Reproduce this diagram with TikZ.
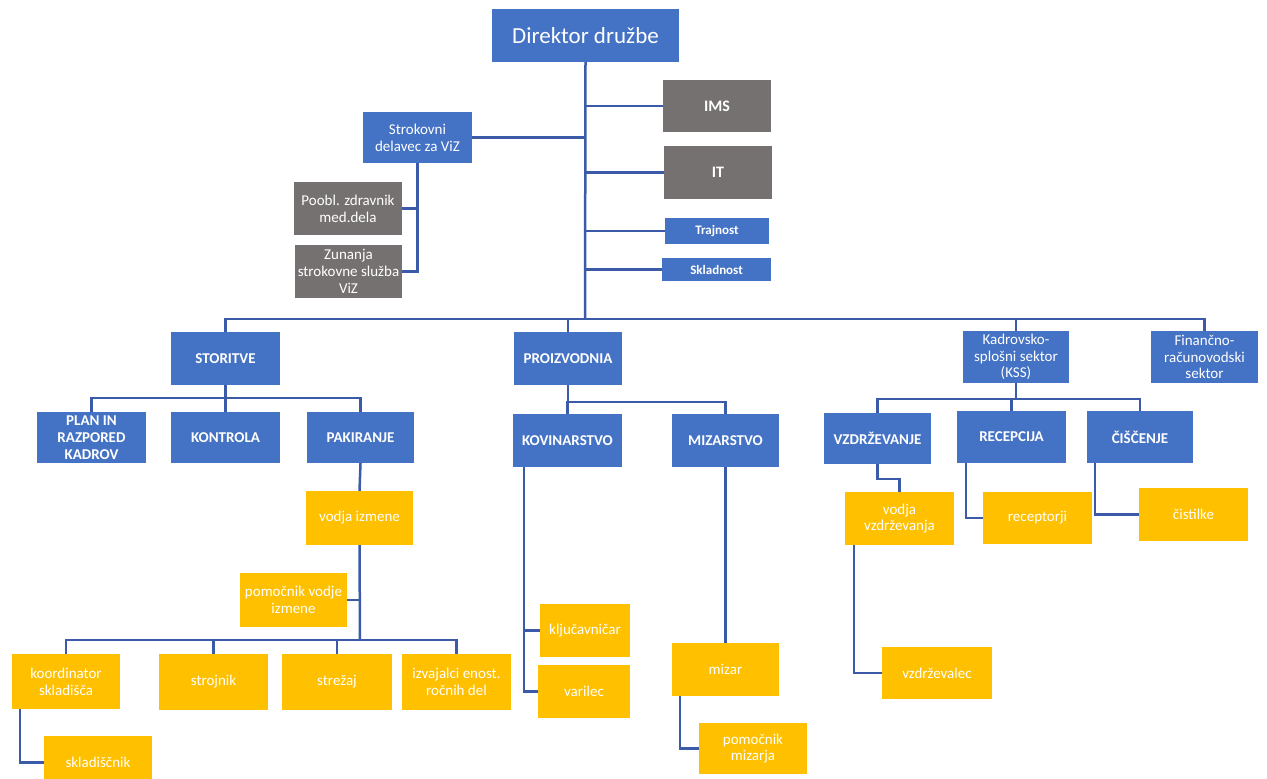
\documentclass[tikz,border=0pt]{standalone}
\usepackage{fontspec}
\setmainfont{Carlito}
\usetikzlibrary{calc}
\definecolor{boxblue}{HTML}{4472C4}
\definecolor{boxgray}{HTML}{767171}
\definecolor{boxyellow}{HTML}{FFC000}
\definecolor{linkblue}{HTML}{3B5BA9}
\tikzset{
  base/.style={rectangle, inner sep=1pt, text=white, align=center, font=\fontsize{15}{16.7}\selectfont},
  bbox/.style={base, fill=boxblue},
  gbox/.style={base, fill=boxgray},
  ybox/.style={base, fill=boxyellow},
  sz/.style n args={2}{minimum width=#1pt, minimum height=#2pt},
  link/.style={draw=linkblue, line width=2.5pt},
  capsbold/.style={font=\fontsize{15}{16.7}\selectfont\bfseries},
}
\begin{document}
\begin{tikzpicture}[x=1pt,y=-1pt]
\fill[white] (0,0) rectangle (1267,779);
\useasboundingbox (0,0) rectangle (1267,779);
% top level
\node[bbox, sz={187}{53}, font=\fontsize{23}{26}\selectfont] (dir) at (585.5,35.5) {Direktor družbe};
\node[gbox, sz={108}{52}, font=\fontsize{16}{18}\selectfont\bfseries] (ims) at (717,106) {IMS};
\node[gbox, sz={108}{53}, font=\fontsize{16}{18}\selectfont\bfseries] (it) at (718,172.5) {IT};
\node[bbox, sz={104}{26}, font=\fontsize{13}{15}\selectfont\bfseries] (traj) at (717,231) {Trajnost};
\node[bbox, sz={109}{23}, font=\fontsize{13}{15}\selectfont\bfseries] (skl) at (716.5,269.5) {Skladnost};
\node[bbox, sz={109}{51}] (strok) at (417.5,137.5) {Strokovni\\delavec za ViZ};
\node[gbox, sz={108}{53}] (poobl) at (348,208.5) {Poobl. zdravnik\\med.dela};
\node[gbox, sz={107}{53}] (zun) at (348.5,271.5) {Zunanja\\strokovne služba\\ViZ};
% sectors
\node[bbox, sz={109}{53}, capsbold] (stor) at (225.5,358.5) {STORITVE};
\node[bbox, sz={108}{53}, capsbold] (proiz) at (568,358.5) {PROIZVODNIA};
\node[bbox, sz={106}{52}] (kss) at (1016,357) {Kadrovsko-\\splošni sektor\\(KSS)};
\node[bbox, sz={107}{52}] (fin) at (1204.5,357) {Finančno-\\računovodski\\sektor};
% storitve
\node[bbox, sz={109}{51}, capsbold] (plan) at (91.5,437.5) {PLAN IN\\RAZPORED\\KADROV};
\node[bbox, sz={109}{51}, capsbold] (kontr) at (225.5,437.5) {KONTROLA};
\node[bbox, sz={107}{51}, capsbold] (pak) at (360.5,437.5) {PAKIRANJE};
\node[ybox, sz={107}{54}] (vodiz) at (359.5,518) {vodja izmene};
\node[ybox, sz={107}{54}] (pomv) at (293.5,600) {pomočnik vodje\\izmene};
\node[ybox, sz={108}{55}] (koord) at (66,681.5) {koordinator\\skladišča};
\node[ybox, sz={109}{56}] (stroj) at (213.5,682) {strojnik};
\node[ybox, sz={110}{56}] (strez) at (337,682) {strežaj};
\node[ybox, sz={109}{56}] (izv) at (456.5,682) {izvajalci enost.\\ročnih del};
\node[ybox, sz={108}{53}] (skldc) at (98,762.5) {skladiščnik};
% proizvodnja
\node[bbox, sz={109}{53}, capsbold] (kovin) at (567.5,440.5) {KOVINARSTVO};
\node[bbox, sz={107}{53}, capsbold] (mizst) at (725.5,440.5) {MIZARSTVO};
\node[ybox, sz={90}{53}] (klj) at (585,630.5) {ključavničar};
\node[ybox, sz={92}{53}] (var) at (584,691.5) {varilec};
\node[ybox, sz={107}{53}] (mizar) at (725.5,669.5) {mizar};
\node[ybox, sz={108}{51}] (pommiz) at (753,748.5) {pomočnik\\mizarja};
% kss
\node[bbox, sz={107}{51}, capsbold] (vzd) at (877.5,438.5) {VZDRŽEVANJE};
\node[bbox, sz={109}{52}, capsbold] (rec) at (1011.5,437) {RECEPCIJA};
\node[bbox, sz={106}{52}, capsbold] (cis) at (1140,437) {ČIŠČENJE};
\node[ybox, sz={109}{53}] (vodvz) at (899.5,518.5) {vodja\\vzdrževanja};
\node[ybox, sz={109}{52}] (recj) at (1037.5,518) {receptorji};
\node[ybox, sz={109}{53}] (cist) at (1193.5,514.5) {čistilke};
\node[ybox, sz={110}{52}] (vzdec) at (937,673) {vzdrževalec};
% bus coordinates
\coordinate (bus) at (585,319);
\coordinate (sb) at (226,398);
\coordinate (pb) at (568,402);
\coordinate (kb) at (1016,399);
\coordinate (ib) at (360,640);
% connectors
\draw[link] (dir.south) -- (bus);
\draw[link] (stor.north) |- (bus) -| (fin.north);
\draw[link] (proiz.north) -- (proiz.north |- bus);
\draw[link] (kss.north) -- (kss.north |- bus);
\foreach \n in {ims,it,traj,skl} \draw[link] (\n.west) -- (\n.west -| dir.south);
\draw[link] (strok.east) -- (strok.east -| dir.south);
\draw[link] (strok.south) |- (zun.east);
\draw[link] (poobl.east) -- (poobl.east -| strok.south);
% storitve
\draw[link] (stor.south) -- (kontr.north);
\draw[link] (plan.north) |- (sb) -| (pak.north);
\draw[link] (pak.south) -- (vodiz.north);
\draw[link] (vodiz.south) -- (ib);
\draw[link] (pomv.east) -- (pomv.east -| vodiz.south);
\draw[link] (koord.north) |- (ib) -| (izv.north);
\draw[link] (stroj.north) -- (stroj.north |- ib);
\draw[link] (strez.north) -- (strez.north |- ib);
\draw[link] ($(koord.south west)+(8,0)$) |- (skldc.west);
% proizvodnja
\draw[link] (proiz.south) -- (pb);
\draw[link] (kovin.north) |- (pb) -| (mizst.north);
\draw[link] ($(kovin.south west)+(11,0)$) |- (var.west);
\draw[link] (klj.west) -- (klj.west -| {$(kovin.south west)+(11,0)$});
\draw[link] (mizst.south) -- (mizar.north);
\draw[link] ($(mizar.south west)+(8,0)$) |- (pommiz.west);
% kss
\draw[link] (kss.south) -- (kb);
\draw[link] (vzd.north) |- (kb) -| (cis.north);
\draw[link] (rec.north) -- (rec.north |- kb);
\draw[link] (vzd.south) -- ++(0,15) -| (vodvz.north);
\draw[link] ($(rec.south west)+(9,0)$) |- (recj.west);
\draw[link] ($(cis.south west)+(8,0)$) |- (cist.west);
\draw[link] ($(vodvz.south west)+(9,0)$) |- (vzdec.west);
\end{tikzpicture}
\end{document}
